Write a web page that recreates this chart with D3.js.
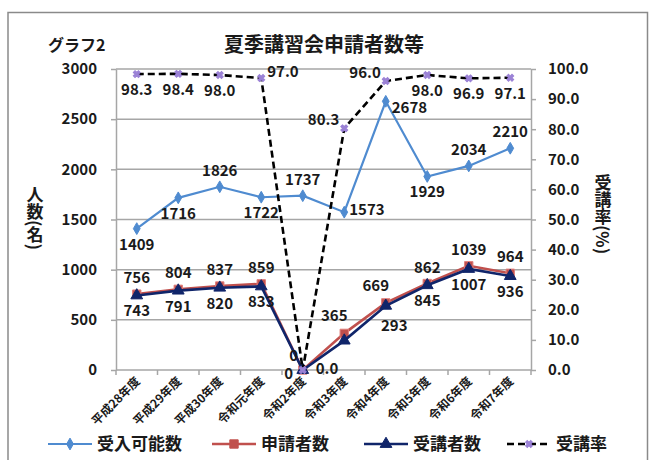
<!DOCTYPE html>
<html>
<head>
<meta charset="utf-8">
<script src="https://cdn.jsdelivr.net/npm/d3@7"></script>
<style>
  body { margin: 0; background: #fff; }
  svg text { font-family: "Noto Sans CJK JP", "Noto Sans", sans-serif; fill: #1a1a1a; }
</style>
</head>
<body>
<div id="chart"></div>
<script>
const categories = ['平成28年度', '平成29年度', '平成30年度', '令和元年度', '令和2年度',
    '令和3年度', '令和4年度', '令和5年度', '令和6年度', '令和7年度'];
const capacity = [1409, 1716, 1826, 1722, 1737, 1573, 2678, 1929, 2034, 2210];
const applicants = [756, 804, 837, 859, 0, 365, 669, 862, 1039, 964];
const attendees = [743, 791, 820, 833, 0, 293, 640, 845, 1007, 936];
const rate = [98.3, 98.4, 98.0, 97.0, 0.0, 80.3, 96.0, 98.0, 96.9, 97.1];
const leftTicks = [0, 500, 1000, 1500, 2000, 2500, 3000];
const rightTicks = [0, 10, 20, 30, 40, 50, 60, 70, 80, 90, 100];
const seriesNames = ['受入可能数', '申請者数', '受講者数', '受講率'];

// where each data label sits relative to its point
const capacityPlace = ['below', 'below', 'above', 'below', 'above', 'right', 'rightDown', 'below', 'above', 'above'];
const applicantPlace = ['above', 'above', 'above', 'above', 'zeroUp', 'aboveL', 'aboveL', 'above', 'above', 'above'];
const attendeePlace = ['below', 'below', 'below', 'below', 'zeroLeft', 'far', 'none', 'below', 'below', 'below'];
const ratePlace = ['below', 'below', 'below', 'rightUp', 'rightZero', 'leftUp', 'leftUp', 'below', 'below', 'below'];

const width = 649;
const height = 460;
const margin = { top: 69, right: 118, bottom: 90, left: 116 };

const svg = d3.select('#chart')
    .append('svg')
    .attr('width', width)
    .attr('height', height);

// outer frame
svg.append('rect')
    .attr('x', 8).attr('y', 12.5)
    .attr('width', 639.5).attr('height', 470)
    .attr('fill', 'none')
    .attr('stroke', '#8a8a8a')
    .attr('stroke-width', 1.5);

const xScale = d3.scaleBand()
    .domain(categories)
    .range([margin.left, width - margin.right]);
const yScale = d3.scaleLinear().domain([0, 3000]).range([height - margin.bottom, margin.top]);
const rScale = d3.scaleLinear().domain([0, 100]).range([height - margin.bottom, margin.top]);
const cx = (d, i) => xScale(categories[i]) + xScale.bandwidth() / 2;

// gridlines
svg.append('g')
    .selectAll('line')
    .data(leftTicks.slice(1))
    .join('line')
    .attr('x1', margin.left).attr('x2', width - margin.right)
    .attr('y1', (d) => yScale(d)).attr('y2', (d) => yScale(d))
    .attr('stroke', '#a6a6a6')
    .attr('stroke-width', 1.5);

const axisColor = '#a6a6a6';
function styleAxis(g) {
    g.select('.domain').attr('stroke', axisColor).attr('stroke-width', 1.5);
    g.selectAll('.tick line').attr('stroke', axisColor).attr('stroke-width', 1.5);
    g.selectAll('text').attr('fill', '#1a1a1a').style('font-size', '15px').style('font-weight', 600);
}

svg.append('g')
    .attr('transform', `translate(${margin.left}, 0)`)
    .call(d3.axisLeft(yScale).tickValues(leftTicks).tickSize(5).tickSizeOuter(0).tickPadding(14)
        .tickFormat(d3.format('d')))
    .call(styleAxis);

svg.append('g')
    .attr('transform', `translate(${width - margin.right}, 0)`)
    .call(d3.axisRight(rScale).tickValues(rightTicks).tickSize(5).tickSizeOuter(0).tickPadding(12)
        .tickFormat(d3.format('.1f')))
    .call(styleAxis);

// x axis: ticks between categories, rotated labels
const xAxis = svg.append('g')
    .attr('transform', `translate(0, ${height - margin.bottom})`);
xAxis.append('line')
    .attr('x1', margin.left).attr('x2', width - margin.right)
    .attr('stroke', axisColor).attr('stroke-width', 1.5);
xAxis.selectAll('.tk')
    .data(d3.range(categories.length + 1))
    .join('line')
    .attr('class', 'tk')
    .attr('x1', (i) => margin.left + i * xScale.bandwidth())
    .attr('x2', (i) => margin.left + i * xScale.bandwidth())
    .attr('y1', 0).attr('y2', 5)
    .attr('stroke', axisColor).attr('stroke-width', 1.5);
xAxis.selectAll('.lbl')
    .data(categories)
    .join('text')
    .attr('class', 'lbl')
    .attr('text-anchor', 'end')
    .attr('transform', (d) => `translate(${xScale(d) + xScale.bandwidth() / 2 + 4}, 12) rotate(-45)`)
    .style('font-size', '12px')
    .style('font-weight', 700)
    .text((d) => d);

// series lines
const blue = '#4f8bd0';
const red = '#c0504d';
const navy = '#10256a';

function drawLine(values, scale, color, w, dash) {
    svg.append('path')
        .datum(values)
        .attr('fill', 'none')
        .attr('stroke', color)
        .attr('stroke-width', w)
        .attr('stroke-dasharray', dash)
        .attr('d', d3.line().x(cx).y((d) => scale(d)));
}

function drawMarkers(values, scale, symbol, size, fill, stroke, rot) {
    svg.append('g')
        .selectAll('path')
        .data(values)
        .join('path')
        .attr('transform', (d, i) => `translate(${cx(d, i)}, ${scale(d)}) rotate(${rot || 0})`)
        .attr('d', d3.symbol(symbol, size))
        .attr('fill', fill)
        .attr('stroke', stroke)
        .attr('stroke-width', 1);
}

drawLine(capacity, yScale, blue, 2.2);
drawMarkers(capacity, yScale, d3.symbolDiamond, 40, blue, blue);

drawLine(applicants, yScale, red, 2.6);
drawMarkers(applicants, yScale, d3.symbolSquare, 70, red, '#e0807c');

drawLine(attendees, yScale, navy, 2.6);
drawMarkers(attendees, yScale, d3.symbolTriangle, 60, navy, navy);

drawLine(rate, rScale, '#000', 2.6, '7,4');
drawMarkers(rate, rScale, d3.symbolCross, 30, '#9b82d6', '#9b82d6', 45);

// data labels
const offsets = {
    above: [0, -11, 'middle'],
    aboveL: [-10, -12, 'middle'],
    below: [0, 21, 'middle'],
    right: [5, 3, 'start'],
    rightDown: [6, 12, 'start'],
    rightUp: [6, -1, 'start'],
    rightZero: [13, 4, 'start'],
    leftUp: [-5, -3, 'end'],
    zeroUp: [-9, -9, 'middle'],
    zeroLeft: [-14, 9, 'middle'],
    far: [50, -10, 'middle'],
};

function drawLabels(values, scale, places, fmt) {
    svg.append('g')
        .selectAll('text')
        .data(values.map((v, i) => ({ v, i, p: places[i] })).filter((d) => d.p !== 'none'))
        .join('text')
        .attr('x', (d) => cx(d.v, d.i) + offsets[d.p][0])
        .attr('y', (d) => scale(d.v) + offsets[d.p][1])
        .attr('text-anchor', (d) => offsets[d.p][2])
        .style('font-size', '15px')
        .style('font-weight', 600)
        .text((d) => fmt(d.v));
}

drawLabels(capacity, yScale, capacityPlace, String);
drawLabels(applicants, yScale, applicantPlace, String);
drawLabels(attendees, yScale, attendeePlace, String);
drawLabels(rate, rScale, ratePlace, d3.format('.1f'));

// titles
svg.append('text')
    .attr('x', 48).attr('y', 51)
    .style('font-size', '16px').style('font-weight', 700)
    .text('グラフ2');
svg.append('text')
    .attr('x', 324).attr('y', 52)
    .attr('text-anchor', 'middle')
    .style('font-size', '20px').style('font-weight', 700)
    .text('夏季講習会申請者数等');

svg.append('text')
    .attr('x', 35).attr('y', 218)
    .attr('text-anchor', 'middle')
    .style('writing-mode', 'vertical-rl')
    .style('font-size', '17px').style('font-weight', 700)
    .text('人数(名)');
svg.append('text')
    .attr('x', 603).attr('y', 214)
    .attr('text-anchor', 'middle')
    .style('writing-mode', 'vertical-rl')
    .style('font-size', '17px').style('font-weight', 700)
    .text('受講率(%)');

// legend
const legendItems = [
    { name: seriesNames[0], x: 48, color: blue, symbol: d3.symbolDiamond, size: 40, w: 2.2, fill: blue, rot: 0 },
    { name: seriesNames[1], x: 212, color: red, symbol: d3.symbolSquare, size: 70, w: 2.6, fill: red, rot: 0 },
    { name: seriesNames[2], x: 364, color: navy, symbol: d3.symbolTriangle, size: 60, w: 2.6, fill: navy, rot: 0 },
    { name: seriesNames[3], x: 507, color: '#000', symbol: d3.symbolCross, size: 30, w: 2.6, fill: '#9b82d6', rot: 45, dash: '7,4' },
];
const legend = svg.append('g').attr('transform', 'translate(0, 444)');
const li = legend.selectAll('g').data(legendItems).join('g')
    .attr('transform', (d) => `translate(${d.x}, 0)`);
li.append('line')
    .attr('x1', 0).attr('x2', 44)
    .attr('stroke', (d) => d.color)
    .attr('stroke-width', (d) => d.w)
    .attr('stroke-dasharray', (d) => d.dash || null);
li.append('path')
    .attr('transform', (d) => `translate(22, 0) rotate(${d.rot})`)
    .attr('d', (d) => d3.symbol(d.symbol, d.size)())
    .attr('fill', (d) => d.fill)
    .attr('stroke', (d) => d.fill);
li.append('text')
    .attr('x', 49).attr('y', 6)
    .style('font-size', '17px').style('font-weight', 700)
    .text((d) => d.name);
</script>
</body>
</html>
